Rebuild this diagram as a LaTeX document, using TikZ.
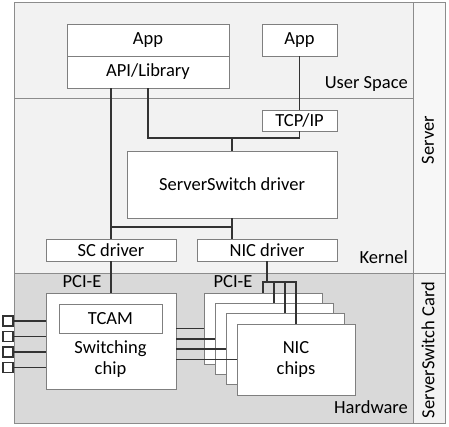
\documentclass[tikz,border=0pt]{standalone}
\usepackage{fontspec}
\setmainfont{Carlito}
\begin{document}
\begin{tikzpicture}[x=1pt,y=-1pt,
  every node/.style={font=\fontsize{18.5}{20.5}\selectfont, inner sep=0pt},
  box/.style={draw=boxline, line width=0.8pt, fill=white, rectangle},
  conn/.style={draw=connline, line width=1.6pt},
  frame/.style={draw=frameline, line width=1pt},
  port/.style={draw=connline, line width=1.2pt, fill=white, minimum width=10pt, minimum height=10pt}]
\definecolor{boxline}{HTML}{7F7F7F}
\definecolor{connline}{HTML}{333333}
\definecolor{frameline}{HTML}{8C8C8C}
\definecolor{softfill}{HTML}{F2F2F2}
\definecolor{hwfill}{HTML}{D9D9D9}
\definecolor{colfill}{HTML}{F7F7F7}
\useasboundingbox (0,0) rectangle (449,427);
% regions
\fill[softfill] (14,3) rectangle (413,273);
\fill[hwfill] (14,273) rectangle (413,423);
\fill[colfill] (413,3) rectangle (445,273);
\fill[softfill] (413,273) rectangle (445,423);
\draw[frame] (14,3) rectangle (445,423);
\draw[frame] (413,3) -- (413,423);
\draw[frame] (14,99) -- (413,99);
\draw[frame] (14,273) -- (445,273);
% region labels
\node[anchor=east] (us) at (408,84) {User Space};
\node[anchor=east] (kern) at (408,257) {Kernel};
\node[anchor=east] (hw) at (408,407) {Hardware};
\node[rotate=90] (srv) at (428,140) {Server};
\node[rotate=90] (ssc) at (428,350) {ServerSwitch Card};
% user space
\node[box, minimum width=162pt, minimum height=32pt] (app1) at (148,40) {App};
\node[box, minimum width=162pt, minimum height=32pt] (api) at (148,72) {API/Library};
\node[box, minimum width=75pt, minimum height=32pt] (app2) at (299.5,40) {App};
% kernel
\node[box, minimum width=75pt, minimum height=21pt] (tcp) at (299.5,120.5) {TCP/IP};
\node[box, minimum width=210pt, minimum height=67pt] (ssd) at (232,184.5) {ServerSwitch driver};
\node[box, minimum width=130pt, minimum height=22pt] (scd) at (111,250) {SC driver};
\node[box, minimum width=140pt, minimum height=22pt] (nicd) at (267,250) {NIC driver};
% hardware
\node (pci1) at (82,282) {PCI-E};
\node (pci2) at (233,282) {PCI-E};
\node[box, minimum width=130pt, minimum height=96pt] (sw) at (111,341) {};
\node[box, minimum width=103pt, minimum height=29pt] (tcam) at (110.5,318.5) {TCAM};
\node[align=center] (swl) at (110.5,359) {Switching\\chip};
\node[box, minimum width=118pt, minimum height=71pt] (nic1) at (263,328.5) {};
\node[box, minimum width=118pt, minimum height=71pt] (nic2) at (274,338.8) {};
\node[box, minimum width=118pt, minimum height=71pt] (nic3) at (285,349.2) {};
\node[box, minimum width=118pt, minimum height=71pt, align=center] (nic4) at (296,359.5) {NIC\\chips};
\node[port] (p1) at (8,321) {};
\node[port] (p2) at (8,336.5) {};
\node[port] (p3) at (8,352) {};
\node[port] (p4) at (8,367.5) {};
\coordinate (j1) at (232,138);
\coordinate (j2) at (232,227);
\coordinate (bus) at (267,282);
% connectors
\draw[conn] (app2.south) -- (tcp.north);
\draw[conn] (api.south) |- (j1) -| (tcp.south);
\draw[conn] (j1) -- (ssd.north);
\draw[conn] (scd.north |- api.south) -- (scd.north);
\draw[conn] (ssd.south) -- (ssd.south |- nicd.north);
\draw[conn] (j2) -- (j2 -| scd.north);
\draw[conn] (scd.south) -- (sw.north);
\draw[conn] (nicd.south) -- (bus);
\foreach \k in {1,2,3,4} {
  \draw[conn] (nic\k.north) |- (bus);
  \draw[conn] (nic\k.west) -- (nic\k.west -| sw.east);
  \draw[conn] (p\k.east) -- (p\k.east -| sw.west);
}
\end{tikzpicture}
\end{document}
